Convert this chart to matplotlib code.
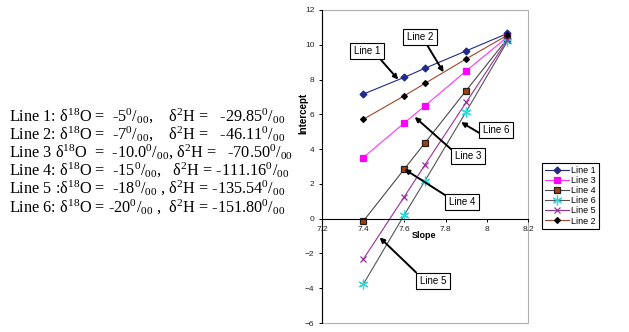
import matplotlib
matplotlib.use("Agg")
import matplotlib.pyplot as plt
from matplotlib.patches import Rectangle

plt.rcParams["mathtext.fontset"] = "custom"
plt.rcParams["mathtext.rm"] = "Liberation Serif"
plt.rcParams["mathtext.default"] = "regular"

# values
slope = [7.4, 7.6, 7.7, 7.9, 8.1]
line1 = [7.16, 8.13, 8.65, 9.65, 10.65]
line2 = [5.71, 7.07, 7.78, 9.19, 10.55]
line3 = [3.51, 5.51, 6.49, 8.50, 10.45]
line4 = [-0.15, 2.86, 4.36, 7.37, 10.35]
line5 = [-2.34, 1.27, 3.10, 6.69, 10.28]
line6 = [-3.78, 0.23, 2.18, 6.16, 10.20]

series_names = ["Line 1", "Line 3", "Line 4", "Line 6", "Line 5", "Line 2"]
series_values = [line1, line3, line4, line6, line5, line2]

x_ticks = [7.2, 7.4, 7.6, 7.8, 8.0, 8.2]
x_tick_labels = ["7.2", "7.4", "7.6", "7.8", "8", "8.2"]
y_ticks = [-6, -4, -2, 0, 2, 4, 6, 8, 10, 12]

text_lines = [
    "Line 1: δ$^{18}$O =  -5$^{0}$/$_{00}$,    δ$^{2}$H =   -29.85$^{0}$/$_{00}$",
    "Line 2: δ$^{18}$O =  -7$^{0}$/$_{00}$,    δ$^{2}$H =   -46.11$^{0}$/$_{00}$",
    "Line 3 δ$^{18}$O  =  -10.0$^{0}$/$_{00}$, δ$^{2}$H =   -70.50$^{0}$/$_{00}$",
    "Line 4: δ$^{18}$O =  -15$^{0}$/$_{00}$,   δ$^{2}$H = -111.16$^{0}$/$_{00}$",
    "Line 5 :δ$^{18}$O =  -18$^{0}$/$_{00}$ , δ$^{2}$H = -135.54$^{0}$/$_{00}$",
    "Line 6: δ$^{18}$O = -20$^{0}$/$_{00}$ ,  δ$^{2}$H = -151.80$^{0}$/$_{00}$",
]

styles = {
    "Line 1": dict(color="#1f2a8c", marker="D", mfc="#1f2a8c", mec="#1f2a8c", ms=3.5),
    "Line 3": dict(color="#ff33ff", marker="s", mfc="#ff00ff", mec="#ff00ff", ms=4.5),
    "Line 4": dict(color="#4a4a4a", marker="s", mfc="#a0400a", mec="#222222", ms=4),
    "Line 6": dict(color="#555555", marker=(6, 2, 0), mfc="#22dddd", mec="#22dddd", ms=7),
    "Line 5": dict(color="#9b2fa0", marker="x", mfc="#9b2fa0", mec="#9b2fa0", ms=4.5),
    "Line 2": dict(color="#a0452a", marker="D", mfc="black", mec="black", ms=3),
}

W, H = 629, 332
fig = plt.figure(figsize=(W / 100, H / 100), dpi=100)

# text block on the left
for i, s in enumerate(text_lines):
    fig.text(9 / W, 1 - (116 + 18.2 * i) / H, s, ha="left", va="center",
             fontsize=11.7, family="Liberation Serif")

ax = fig.add_axes([322 / W, 1 - 323 / H, (528 - 322) / W, (323 - 10) / H])
for name, vals in zip(series_names, series_values):
    st = styles[name]
    ax.plot(slope, vals, lw=0.8, label=name, color=st["color"], marker=st["marker"],
            markerfacecolor=st["mfc"], markeredgecolor=st["mec"], markersize=st["ms"],
            markeredgewidth=0.9)

ax.set_xlim(7.2, 8.2)
ax.set_ylim(-6, 12)
ax.set_xticks(x_ticks)
ax.set_xticklabels(x_tick_labels)
ax.set_yticks(y_ticks)
ax.tick_params(labelsize=6, direction="out", length=2.5, width=0.7, pad=3,
               labelcolor="#222222", labelfontfamily="Liberation Sans")

ax.spines["top"].set_visible(False)
ax.spines["right"].set_visible(False)
ax.spines["bottom"].set_position(("data", 0))
ax.spines["bottom"].set_linewidth(0.8)
ax.spines["left"].set_linewidth(0.8)
ax.add_patch(Rectangle((0, 0), 1, 1, transform=ax.transAxes, fill=False,
                       ec="#b0b0b0", lw=0.8, clip_on=False, zorder=0))

fig.text(303 / W, 1 - 113 / H, "Intercept", rotation=90, ha="center", va="center",
         fontsize=7, fontweight="bold", family="Liberation Sans")
fig.text(424 / W, 1 - 236 / H, "Slope", ha="center", va="center",
         fontsize=6.5, fontweight="bold", family="Liberation Sans")

# call-out boxes: (label, box centre in px, arrow tip in data, arrow start on box)
callouts = [
    ("Line 1", (367, 51), (7.57, 8.0), (0.9, 0)),
    ("Line 2", (420, 37), (7.79, 8.42), (0.7, 0)),
    ("Line 3", (468, 156), (7.65, 5.85), (0, 0.85)),
    ("Line 6", (496, 130), (7.875, 5.55), (0, 0)),
    ("Line 4", (462, 202), (7.6, 2.85), (0, 0.95)),
    ("Line 5", (433, 281), (7.48, -1.08), (0, 1)),
]
for label, (bx, by), tip, rel in callouts:
    ax.annotate(label, xy=tip, xycoords="data",
                xytext=(bx / W, 1 - by / H), textcoords="figure fraction",
                ha="center", va="center", fontsize=7, family="Liberation Sans",
                bbox=dict(boxstyle="square,pad=0.35", fc="white", ec="black", lw=0.8),
                arrowprops=dict(arrowstyle="-|>", color="black", lw=1.4,
                                shrinkA=0, shrinkB=0, mutation_scale=7, relpos=rel),
                annotation_clip=False)

leg = ax.legend(loc="upper left", bbox_to_anchor=(542 / W, 1 - 163 / H),
                bbox_transform=fig.transFigure, prop=dict(family="Liberation Sans", size=6.5),
                frameon=True, fancybox=False, framealpha=1, edgecolor="black",
                handlelength=2.6, labelspacing=0.12, borderpad=0.35, handletextpad=0.3,
                borderaxespad=0)
leg.get_frame().set_linewidth(0.8)

fig.savefig("out.png", dpi=100)
